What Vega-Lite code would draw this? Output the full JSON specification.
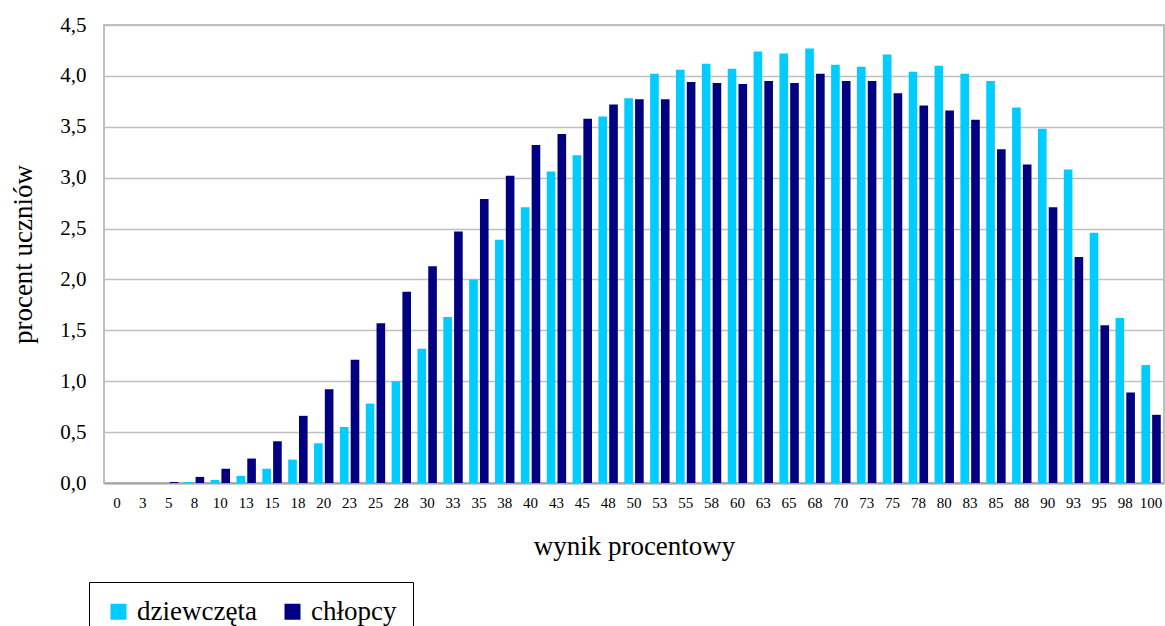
{
  "$schema": "https://vega.github.io/schema/vega-lite/v6.json",
  "width": 1060,
  "height": 458,
  "autosize": {"type": "none"},
  "padding": {"left": 104, "top": 25, "right": 1, "bottom": 143},
  "background": "white",
  "config": {
    "font": "Liberation Serif",
    "axis": {"labelFont": "Liberation Serif", "titleFont": "Liberation Serif"},
    "legend": {"labelFont": "Liberation Serif", "titleFont": "Liberation Serif"},
    "view": {"stroke": "#bfbfbf", "strokeWidth": 2}
  },
  "data": {
    "values": [
      {"wynik": "0", "plec": "dziewczęta", "procent": 0}, {"wynik": "0", "plec": "chłopcy", "procent": 0},
      {"wynik": "3", "plec": "dziewczęta", "procent": 0}, {"wynik": "3", "plec": "chłopcy", "procent": 0},
      {"wynik": "5", "plec": "dziewczęta", "procent": 0}, {"wynik": "5", "plec": "chłopcy", "procent": 0.01},
      {"wynik": "8", "plec": "dziewczęta", "procent": 0.01}, {"wynik": "8", "plec": "chłopcy", "procent": 0.06},
      {"wynik": "10", "plec": "dziewczęta", "procent": 0.03}, {"wynik": "10", "plec": "chłopcy", "procent": 0.14},
      {"wynik": "13", "plec": "dziewczęta", "procent": 0.07}, {"wynik": "13", "plec": "chłopcy", "procent": 0.24},
      {"wynik": "15", "plec": "dziewczęta", "procent": 0.14}, {"wynik": "15", "plec": "chłopcy", "procent": 0.41},
      {"wynik": "18", "plec": "dziewczęta", "procent": 0.23}, {"wynik": "18", "plec": "chłopcy", "procent": 0.66},
      {"wynik": "20", "plec": "dziewczęta", "procent": 0.39}, {"wynik": "20", "plec": "chłopcy", "procent": 0.92},
      {"wynik": "23", "plec": "dziewczęta", "procent": 0.55}, {"wynik": "23", "plec": "chłopcy", "procent": 1.21},
      {"wynik": "25", "plec": "dziewczęta", "procent": 0.78}, {"wynik": "25", "plec": "chłopcy", "procent": 1.57},
      {"wynik": "28", "plec": "dziewczęta", "procent": 1.0}, {"wynik": "28", "plec": "chłopcy", "procent": 1.88},
      {"wynik": "30", "plec": "dziewczęta", "procent": 1.32}, {"wynik": "30", "plec": "chłopcy", "procent": 2.13},
      {"wynik": "33", "plec": "dziewczęta", "procent": 1.63}, {"wynik": "33", "plec": "chłopcy", "procent": 2.47},
      {"wynik": "35", "plec": "dziewczęta", "procent": 2.0}, {"wynik": "35", "plec": "chłopcy", "procent": 2.79},
      {"wynik": "38", "plec": "dziewczęta", "procent": 2.39}, {"wynik": "38", "plec": "chłopcy", "procent": 3.02},
      {"wynik": "40", "plec": "dziewczęta", "procent": 2.71}, {"wynik": "40", "plec": "chłopcy", "procent": 3.32},
      {"wynik": "43", "plec": "dziewczęta", "procent": 3.06}, {"wynik": "43", "plec": "chłopcy", "procent": 3.43},
      {"wynik": "45", "plec": "dziewczęta", "procent": 3.22}, {"wynik": "45", "plec": "chłopcy", "procent": 3.58},
      {"wynik": "48", "plec": "dziewczęta", "procent": 3.6}, {"wynik": "48", "plec": "chłopcy", "procent": 3.72},
      {"wynik": "50", "plec": "dziewczęta", "procent": 3.78}, {"wynik": "50", "plec": "chłopcy", "procent": 3.77},
      {"wynik": "53", "plec": "dziewczęta", "procent": 4.02}, {"wynik": "53", "plec": "chłopcy", "procent": 3.77},
      {"wynik": "55", "plec": "dziewczęta", "procent": 4.06}, {"wynik": "55", "plec": "chłopcy", "procent": 3.94},
      {"wynik": "58", "plec": "dziewczęta", "procent": 4.12}, {"wynik": "58", "plec": "chłopcy", "procent": 3.93},
      {"wynik": "60", "plec": "dziewczęta", "procent": 4.07}, {"wynik": "60", "plec": "chłopcy", "procent": 3.92},
      {"wynik": "63", "plec": "dziewczęta", "procent": 4.24}, {"wynik": "63", "plec": "chłopcy", "procent": 3.95},
      {"wynik": "65", "plec": "dziewczęta", "procent": 4.22}, {"wynik": "65", "plec": "chłopcy", "procent": 3.93},
      {"wynik": "68", "plec": "dziewczęta", "procent": 4.27}, {"wynik": "68", "plec": "chłopcy", "procent": 4.02},
      {"wynik": "70", "plec": "dziewczęta", "procent": 4.11}, {"wynik": "70", "plec": "chłopcy", "procent": 3.95},
      {"wynik": "73", "plec": "dziewczęta", "procent": 4.09}, {"wynik": "73", "plec": "chłopcy", "procent": 3.95},
      {"wynik": "75", "plec": "dziewczęta", "procent": 4.21}, {"wynik": "75", "plec": "chłopcy", "procent": 3.83},
      {"wynik": "78", "plec": "dziewczęta", "procent": 4.04}, {"wynik": "78", "plec": "chłopcy", "procent": 3.71},
      {"wynik": "80", "plec": "dziewczęta", "procent": 4.1}, {"wynik": "80", "plec": "chłopcy", "procent": 3.66},
      {"wynik": "83", "plec": "dziewczęta", "procent": 4.02}, {"wynik": "83", "plec": "chłopcy", "procent": 3.57},
      {"wynik": "85", "plec": "dziewczęta", "procent": 3.95}, {"wynik": "85", "plec": "chłopcy", "procent": 3.28},
      {"wynik": "88", "plec": "dziewczęta", "procent": 3.69}, {"wynik": "88", "plec": "chłopcy", "procent": 3.13},
      {"wynik": "90", "plec": "dziewczęta", "procent": 3.48}, {"wynik": "90", "plec": "chłopcy", "procent": 2.71},
      {"wynik": "93", "plec": "dziewczęta", "procent": 3.08}, {"wynik": "93", "plec": "chłopcy", "procent": 2.22},
      {"wynik": "95", "plec": "dziewczęta", "procent": 2.46}, {"wynik": "95", "plec": "chłopcy", "procent": 1.55},
      {"wynik": "98", "plec": "dziewczęta", "procent": 1.62}, {"wynik": "98", "plec": "chłopcy", "procent": 0.89},
      {"wynik": "100", "plec": "dziewczęta", "procent": 1.16}, {"wynik": "100", "plec": "chłopcy", "procent": 0.67}
    ]
  },
  "mark": {"type": "bar"},
  "encoding": {
    "x": {
      "field": "wynik",
      "type": "nominal",
      "sort": null,
      "scale": {"paddingInner": 0.25, "paddingOuter": 0.125},
      "axis": {
        "title": "wynik procentowy",
        "titleFont": "Liberation Serif",
        "titleFontSize": 27,
        "titleFontWeight": "normal",
        "titleColor": "black",
        "titlePadding": 23,
        "labelFont": "Liberation Serif",
        "labelAngle": 0,
        "labelFontSize": 15,
        "labelColor": "black",
        "labelPadding": 12,
        "ticks": false,
        "domainColor": "#a6a6a6",
        "domainWidth": 2
      }
    },
    "xOffset": {
      "field": "plec",
      "sort": ["dziewczęta", "chłopcy"],
      "scale": {"paddingInner": 0.2, "paddingOuter": 0}
    },
    "y": {
      "field": "procent",
      "type": "quantitative",
      "scale": {"domain": [0, 4.5], "nice": false},
      "axis": {
        "title": "procent uczniów",
        "titleFont": "Liberation Serif",
        "titleFontSize": 27,
        "titleFontWeight": "normal",
        "titleColor": "black",
        "titlePadding": 22,
        "values": [0, 0.5, 1, 1.5, 2, 2.5, 3, 3.5, 4, 4.5],
        "labelExpr": "replace(format(datum.value, '.1f'), '.', ',')",
        "labelFont": "Liberation Serif",
        "labelFontSize": 21,
        "labelColor": "black",
        "labelPadding": 18,
        "ticks": false,
        "domain": false,
        "gridColor": "#bfbfbf",
        "gridWidth": 1.5
      }
    },
    "color": {
      "field": "plec",
      "type": "nominal",
      "scale": {"domain": ["dziewczęta", "chłopcy"], "range": ["#00CCFF", "#000080"]},
      "legend": {
        "title": null,
        "orient": "none",
        "legendX": -15,
        "legendY": 557,
        "direction": "horizontal",
        "symbolType": "square",
        "symbolSize": 256,
        "symbolStrokeWidth": 0,
        "symbolOpacity": 1,
        "labelFont": "Liberation Serif",
        "labelFontSize": 27,
        "labelColor": "black",
        "labelOffset": 5,
        "columnPadding": 22,
        "padding": 16,
        "symbolOffset": 0,
        "strokeColor": "black",
        "fillColor": "white"
      }
    }
  }
}
